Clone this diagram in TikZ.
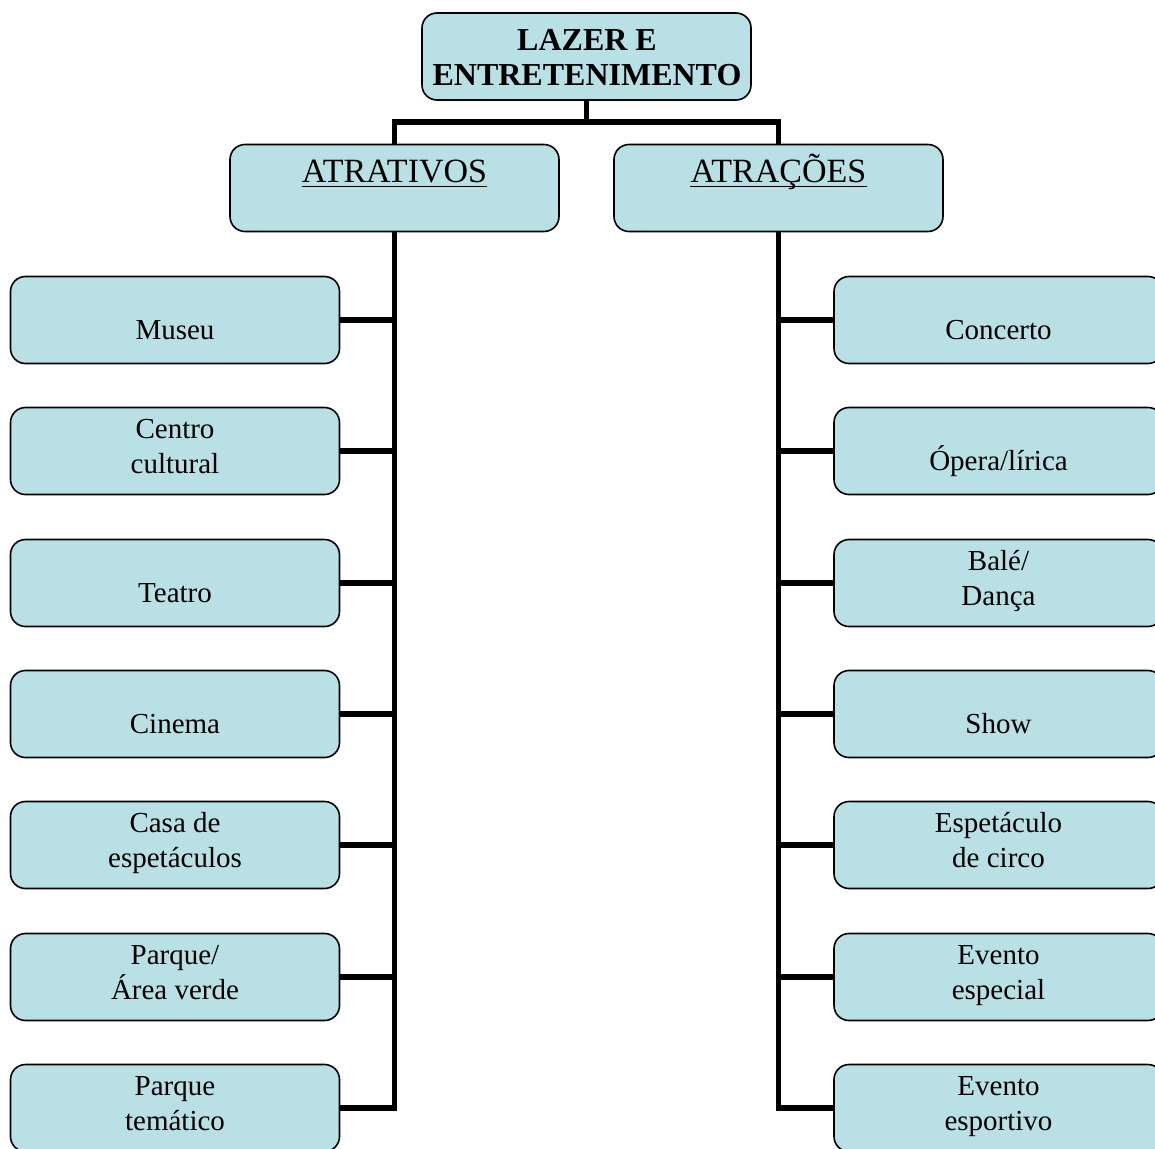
\documentclass[tikz,border=0pt]{standalone}
\usepackage{fontspec}
\setmainfont{Liberation Serif}
\usetikzlibrary{calc}
\definecolor{boxfill}{RGB}{185,224,228}

% one rounded box with its (possibly two-line) caption
% #1 name, #2 centre x, #3 top y, #4 baseline offset, #5 text
\newcommand{\mkitem}[5]{%
  \node[box] (#1) at (#2,#3+44) {};
  \node[txt] (#1t) at (#2,#3+#4) {\begin{tabular}[t]{@{}c@{}}#5\end{tabular}};
}

\begin{document}
\begin{tikzpicture}[x=1pt,y=-1pt,
  box/.style={draw=black, line width=1.6pt, fill=boxfill, rounded corners=15pt,
              minimum width=329pt, minimum height=87pt, inner sep=0pt},
  txt/.style={inner sep=0pt, anchor=base, font=\fontsize{29}{35}\selectfont},
  head/.style={inner sep=0pt, anchor=base, font=\fontsize{34}{40}\selectfont},
  link/.style={line width=5.5pt}]
\useasboundingbox (0,0) rectangle (1155,1148);
\clip (0,0) rectangle (1155,1148);

% root
\node[box] (top) at (586.5,56.5) {};
\node[inner sep=0pt, anchor=base, font=\fontsize{32}{35}\bfseries\selectfont] (topt) at (587,51)
  {\begin{tabular}[t]{@{}c@{}}LAZER E\\ENTRETENIMENTO\end{tabular}};

% two branches
\node[box] (atr) at (394.5,188) {};
\node[head] (atrt) at (394.5,182) {ATRATIVOS};
\node[box] (atc) at (778.5,188) {};
\node[head] (atct) at (778.5,182) {ATRAÇÕES};
\draw[line width=1.8pt] ($(atrt.base west)+(0,4.5)$) -- ($(atrt.base east)+(0,4.5)$);
\draw[line width=1.8pt] ($(atct.base west)+(0,4.5)$) -- ($(atct.base east)+(0,4.5)$);

% left column
\mkitem{l1}{175}{276}{63}{Museu}
\mkitem{l2}{175}{407}{31}{Centro\\cultural}
\mkitem{l3}{175}{539}{63}{Teatro}
\mkitem{l4}{175}{670}{63}{Cinema}
\mkitem{l5}{175}{801}{31}{Casa de\\espetáculos}
\mkitem{l6}{175}{933}{31}{Parque/\\Área verde}
\mkitem{l7}{175}{1064}{31}{Parque\\temático}

% right column
\mkitem{r1}{998.5}{276}{63}{Concerto}
\mkitem{r2}{998.5}{407}{63}{Ópera/lírica}
\mkitem{r3}{998.5}{539}{31}{Balé/\\Dança}
\mkitem{r4}{998.5}{670}{63}{Show}
\mkitem{r5}{998.5}{801}{31}{Espetáculo\\de circo}
\mkitem{r6}{998.5}{933}{31}{Evento\\especial}
\mkitem{r7}{998.5}{1064}{31}{Evento\\esportivo}

% connectors
\coordinate (bar) at (586.5,122);
\draw[link] (top.south) -- (bar);
\draw[link] (bar) -| (atr.north);
\draw[link] (bar) -| (atc.north);
\foreach \n in {l1,l2,l3,l4,l5,l6,l7}
  \draw[link] (atr.south) |- (\n.east);
\foreach \n in {r1,r2,r3,r4,r5,r6,r7}
  \draw[link] (atc.south) |- (\n.west);
\end{tikzpicture}
\end{document}
